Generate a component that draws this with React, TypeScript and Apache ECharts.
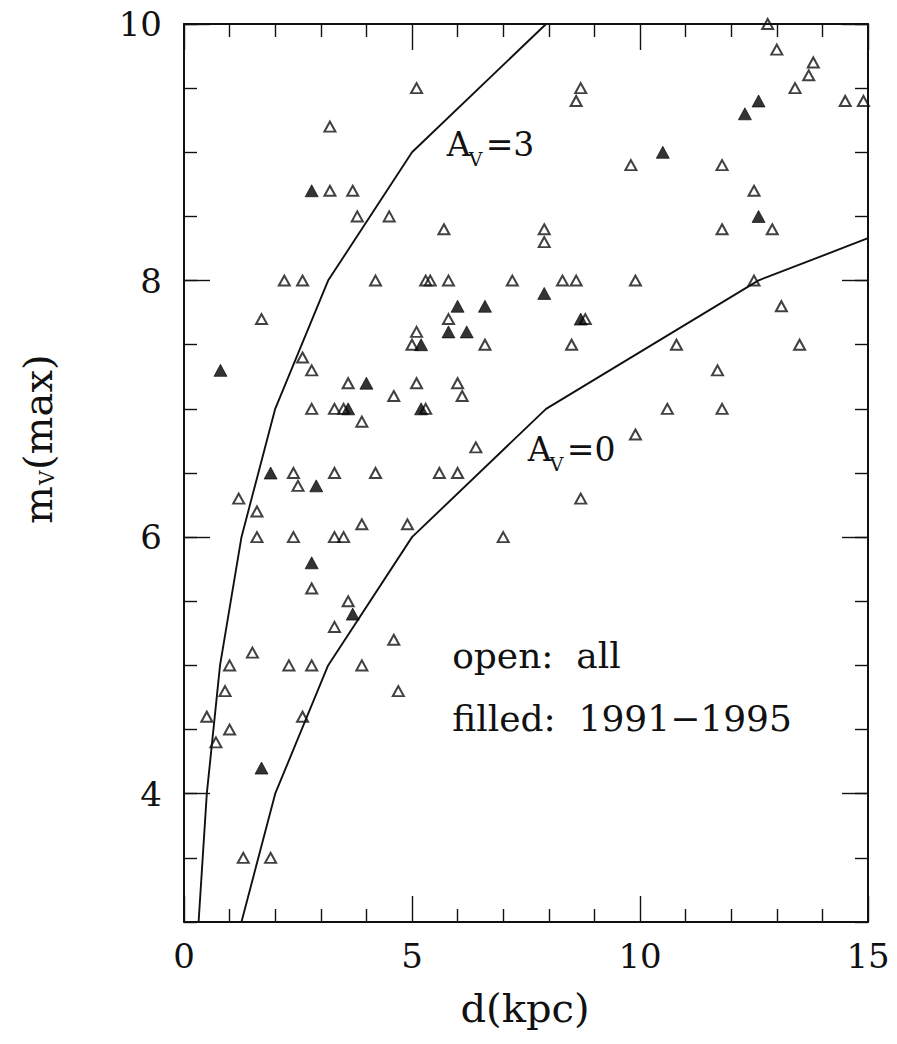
import React, { useEffect, useRef } from 'react';
import * as echarts from 'echarts';

// open triangles: all novae  [d(kpc), m_V(max)]
const openPoints: [number, number][] = [
  [5.1, 9.5], [3.2, 9.2], [3.2, 8.7], [3.7, 8.7], [3.8, 8.5], [4.5, 8.5], [5.7, 8.4],
  [2.2, 8.0], [2.6, 8.0], [4.2, 8.0], [5.3, 8.0], [5.4, 8.0], [5.8, 8.0], [7.2, 8.0],
  [1.7, 7.7], [5.8, 7.7],
  [12.8, 10.0], [13.0, 9.8], [13.8, 9.7], [13.7, 9.6], [13.4, 9.5], [8.7, 9.5], [8.6, 9.4],
  [14.5, 9.4], [14.9, 9.4], [9.8, 8.9], [11.8, 8.9], [12.5, 8.7], [11.8, 8.4], [12.9, 8.4],
  [7.9, 8.4], [7.9, 8.3], [8.3, 8.0], [8.6, 8.0], [9.9, 8.0], [12.5, 8.0], [13.1, 7.8], [8.8, 7.7],
  [5.1, 7.6], [5.0, 7.5], [6.6, 7.5], [2.6, 7.4], [2.8, 7.3], [3.6, 7.2], [5.1, 7.2], [6.0, 7.2],
  [4.6, 7.1], [6.1, 7.1], [2.8, 7.0], [3.3, 7.0], [3.5, 7.0], [5.3, 7.0], [3.9, 6.9], [6.4, 6.7],
  [2.4, 6.5], [3.3, 6.5], [4.2, 6.5], [5.6, 6.5], [6.0, 6.5], [2.5, 6.4], [1.2, 6.3], [1.6, 6.2],
  [1.6, 6.0], [2.4, 6.0], [3.3, 6.0], [3.5, 6.0], [3.9, 6.1], [4.9, 6.1], [7.0, 6.0],
  [2.8, 5.6], [3.6, 5.5], [3.3, 5.3],
  [8.5, 7.5], [10.8, 7.5], [13.5, 7.5], [11.7, 7.3], [10.6, 7.0], [11.8, 7.0], [9.9, 6.8], [8.7, 6.3],
  [4.6, 5.2], [1.5, 5.1], [1.0, 5.0], [2.3, 5.0], [2.8, 5.0], [3.9, 5.0], [0.9, 4.8], [4.7, 4.8],
  [0.5, 4.6], [2.6, 4.6], [1.0, 4.5], [0.7, 4.4], [1.3, 3.5], [1.9, 3.5],
];

// filled triangles: 1991-1995
const filledPoints: [number, number][] = [
  [2.8, 8.7], [6.0, 7.8], [6.6, 7.8], [12.6, 9.4], [12.3, 9.3], [10.5, 9.0], [12.6, 8.5],
  [7.9, 7.9], [8.7, 7.7], [5.8, 7.6], [6.2, 7.6], [5.2, 7.5], [0.8, 7.3], [4.0, 7.2],
  [3.6, 7.0], [5.2, 7.0], [1.9, 6.5], [2.9, 6.4], [2.8, 5.8], [3.7, 5.4], [1.7, 4.2],
];

// extinction curves (vertices)
const curveAv0: [number, number][] = [
  [1.26, 3], [2.0, 4], [3.16, 5], [5.0, 6], [7.94, 7], [12.59, 8], [15, 8.33],
];
const curveAv3: [number, number][] = [
  [0.32, 3], [0.5, 4], [0.79, 5], [1.26, 6], [2.0, 7], [3.16, 8], [5.0, 9], [7.94, 10],
];

const xLabelValues = [0, 5, 10, 15];
const yLabelValues = [4, 6, 8, 10];
const yMajorTicks = [4, 6, 8, 10];

const FONT = 'DejaVu Serif';
const INK = '#111';

export default function App() {
  const ref = useRef<HTMLDivElement>(null);

  useEffect(() => {
    const chart = echarts.init(ref.current!, null, { renderer: 'svg' });

    const axisLine = { show: true, lineStyle: { color: INK, width: 2 } };
    const tickStyle = { color: INK, width: 1.4 };

    const xBase = {
      type: 'value', min: 0, max: 15, interval: 5,
      splitLine: { show: false },
      axisLine,
      axisTick: { show: true, inside: true, length: 26, lineStyle: tickStyle },
      minorTick: { show: true, splitNumber: 5, length: 13, lineStyle: tickStyle },
    };

    const yShort = {
      type: 'value', min: 3, max: 10, interval: 0.5,
      splitLine: { show: false },
      axisLine,
      axisTick: { show: true, inside: true, length: 13, lineStyle: tickStyle },
    };
    const yLong = {
      type: 'value', min: 3, max: 10, interval: 0.5,
      splitLine: { show: false },
      axisLine: { show: false },
      axisLabel: { show: false },
      axisTick: { show: true, inside: true, length: 26, lineStyle: tickStyle, customValues: yMajorTicks },
    };

    const option: any = {
      animation: false,
      backgroundColor: '#fff',
      grid: { left: 184, right: 29, top: 24, bottom: 122, containLabel: false },
      xAxis: [
        {
          ...xBase, position: 'bottom',
          axisLabel: {
            show: true, margin: 17, fontFamily: FONT, fontSize: 34, color: INK,
            formatter: (v: number) => (xLabelValues.includes(v) ? String(v) : ''),
          },
        },
        { ...xBase, position: 'top', axisLabel: { show: false } },
      ],
      yAxis: [
        {
          ...yShort, position: 'left',
          axisLabel: {
            show: true, margin: 22, fontFamily: FONT, fontSize: 34, color: INK,
            formatter: (v: number) => (yLabelValues.includes(v) ? String(v) : ''),
          },
        },
        { ...yLong, position: 'left' },
        { ...yShort, position: 'right', axisLabel: { show: false } },
        { ...yLong, position: 'right' },
      ],
      series: [
        {
          type: 'line', data: curveAv0, showSymbol: false, symbol: 'none',
          lineStyle: { color: INK, width: 1.9 }, clip: true, z: 2,
        },
        {
          type: 'line', data: curveAv3, showSymbol: false, symbol: 'none',
          lineStyle: { color: INK, width: 1.9 }, clip: true, z: 2,
        },
        {
          type: 'scatter', data: openPoints, symbol: 'triangle', symbolSize: [11, 10],
          itemStyle: { color: 'rgba(255,255,255,0)', borderColor: INK, borderWidth: 2 }, z: 3,
        },
        {
          type: 'scatter', data: filledPoints, symbol: 'triangle', symbolSize: [13, 12],
          itemStyle: { color: '#000', borderColor: '#000', borderWidth: 0.8 }, z: 4,
        },
      ],
    };

    chart.setOption(option);

    const px = (d: number, m: number) =>
      chart.convertToPixel({ xAxisIndex: 0, yAxisIndex: 0 }, [d, m]) as number[];

    const txt = (x: number, y: number, text: string, size: number, align = 'left') => ({
      type: 'text', x, y, z: 10,
      style: { text, fontFamily: FONT, fontSize: size, fill: INK, align, verticalAlign: 'middle' },
    });

    const avLabel = (d: number, m: number, val: string) => {
      const [x, y] = px(d, m);
      return [
        txt(x, y, 'A', 33),
        txt(x + 22, y + 14, 'V', 19),
        txt(x + 39, y, '=' + val, 33),
      ];
    };

    const [ox, oy] = px(5.88, 5.08);
    const [fx, fy] = px(5.88, 4.59);

    chart.setOption({
      graphic: [
        ...avLabel(5.76, 9.06, '3'),
        ...avLabel(7.54, 6.68, '0'),
        txt(ox, oy, 'open:  all', 36),
        txt(fx, fy, 'filled:  1991\u22121995', 36),
        txt(525, 1008, 'd(kpc)', 40, 'center'),
        {
          type: 'group', x: 38, y: 432, rotation: Math.PI / 2,
          children: [
            txt(-92, 0, 'm', 40),
            txt(-53, 9, 'V', 20),
            txt(-38, 0, '(max)', 40),
          ],
        },
      ],
    });

    return () => chart.dispose();
  }, []);

  return (
    <div
      ref={ref}
      style={{ position: 'fixed', left: 0, top: 0, width: 897, height: 1044, background: '#fff' }}
    />
  );
}
